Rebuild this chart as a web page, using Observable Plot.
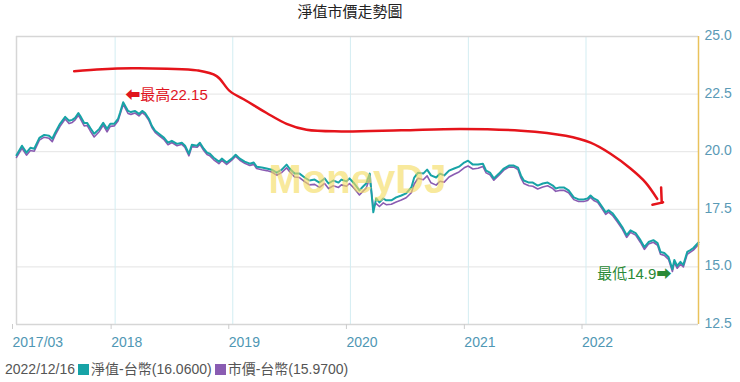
<!DOCTYPE html>
<html><head><meta charset="utf-8">
<script src="https://cdn.jsdelivr.net/npm/d3@7"></script>
<script src="https://cdn.jsdelivr.net/npm/@observablehq/plot@0.6"></script>
<style>
body{margin:0;background:#fff;font-family:"Liberation Sans","Noto Sans CJK TC",sans-serif;}
#title{width:700px;height:24px;line-height:22px;text-align:center;font-size:15px;color:#222;font-family:"Noto Sans CJK TC",sans-serif;overflow:visible;}
#legend{height:26px;line-height:26px;font-size:14px;color:#555;padding-left:5px;white-space:nowrap;}
#legend .sq{display:inline-block;width:11px;height:11px;margin:0 2px 0 3px;vertical-align:-1px;}
</style></head>
<body>
<div id="title">淨值市價走勢圖</div>
<div id="chart"></div>
<div id="legend"></div>
<script>
const dates = ["2017-03-01","2017-03-18","2017-04-01","2017-04-13","2017-04-25","2017-05-11","2017-05-26","2017-06-10","2017-06-20","2017-06-29","2017-07-14","2017-07-30","2017-08-11","2017-08-21","2017-08-30","2017-09-09","2017-09-15","2017-09-27","2017-10-06","2017-10-16","2017-10-28","2017-11-13","2017-11-25","2017-12-07","2017-12-17","2017-12-29","2018-01-10","2018-01-16","2018-01-26","2018-02-10","2018-02-19","2018-03-04","2018-03-16","2018-03-26","2018-04-04","2018-04-16","2018-04-25","2018-05-05","2018-05-17","2018-06-02","2018-06-14","2018-06-26","2018-07-12","2018-07-27","2018-08-06","2018-08-18","2018-08-27","2018-09-12","2018-09-21","2018-10-03","2018-10-13","2018-10-22","2018-11-03","2018-11-19","2018-11-28","2018-12-13","2018-12-29","2019-01-10","2019-01-23","2019-02-07","2019-02-23","2019-03-07","2019-03-16","2019-04-01","2019-04-16","2019-05-02","2019-05-17","2019-06-02","2019-06-17","2019-06-26","2019-07-12","2019-07-27","2019-08-12","2019-08-27","2019-09-12","2019-09-27","2019-10-13","2019-10-25","2019-11-09","2019-11-25","2019-12-04","2019-12-20","2019-12-29","2020-01-13","2020-01-29","2020-02-10","2020-02-19","2020-03-01","2020-03-12","2020-03-21","2020-03-31","2020-04-12","2020-04-21","2020-05-07","2020-05-22","2020-06-07","2020-06-22","2020-07-08","2020-07-17","2020-07-29","2020-08-14","2020-08-26","2020-09-07","2020-09-23","2020-10-05","2020-10-18","2020-11-02","2020-11-18","2020-12-03","2020-12-19","2020-12-31","2021-01-15","2021-01-31","2021-02-15","2021-02-25","2021-03-09","2021-03-21","2021-04-06","2021-04-21","2021-05-07","2021-05-22","2021-06-04","2021-06-13","2021-06-22","2021-07-08","2021-07-20","2021-08-04","2021-08-20","2021-09-04","2021-09-20","2021-09-29","2021-10-11","2021-10-24","2021-11-08","2021-11-24","2021-12-09","2021-12-25","2022-01-06","2022-01-15","2022-01-25","2022-02-06","2022-02-21","2022-03-03","2022-03-12","2022-03-24","2022-04-09","2022-04-24","2022-05-07","2022-05-19","2022-06-04","2022-06-19","2022-07-01","2022-07-14","2022-07-29","2022-08-11","2022-08-20","2022-09-01","2022-09-14","2022-09-26","2022-10-02","2022-10-11","2022-10-21","2022-10-30","2022-11-11","2022-11-21","2022-11-30","2022-12-16"];
const nav = [19.85,20.26,19.96,20.17,20.13,20.60,20.73,20.69,20.56,20.82,21.21,21.51,21.34,21.38,21.47,21.68,21.55,21.25,21.25,21.03,20.78,20.99,21.25,20.99,21.21,21.21,21.42,21.68,22.15,21.77,21.72,21.77,21.64,21.77,21.68,21.42,21.12,20.91,20.78,20.60,20.39,20.47,20.34,20.39,20.26,19.91,20.30,20.26,20.39,20.13,19.96,19.91,19.74,19.57,19.70,19.53,19.70,19.87,19.70,19.57,19.48,19.53,19.35,19.31,19.27,19.22,19.09,19.22,19.44,19.27,19.05,19.05,18.88,18.75,18.79,18.66,18.84,18.62,18.75,18.66,18.79,18.71,18.84,18.62,18.32,18.50,18.62,19.05,17.37,17.97,17.80,17.97,17.89,17.89,18.02,18.10,18.19,18.45,18.88,19.09,19.05,19.22,18.97,18.88,19.05,18.97,19.18,19.27,19.35,19.53,19.61,19.44,19.44,19.48,19.18,19.09,18.84,19.05,19.27,19.40,19.40,19.31,18.97,18.75,18.66,18.66,18.53,18.62,18.66,18.53,18.40,18.45,18.45,18.32,18.02,17.93,17.93,17.97,18.10,17.97,17.89,17.59,17.37,17.46,17.33,17.03,16.72,16.38,16.59,16.47,16.16,15.86,16.08,16.16,16.03,15.65,15.60,15.43,14.90,15.30,15.04,15.22,15.09,15.65,15.73,15.82,16.06];
const price = [19.75,20.15,19.85,20.05,20.02,20.50,20.63,20.58,20.44,20.72,21.10,21.42,21.22,21.27,21.38,21.58,21.44,21.12,21.14,20.90,20.64,20.88,21.15,20.86,21.10,21.12,21.33,21.60,22.05,21.66,21.62,21.68,21.55,21.70,21.60,21.35,21.05,20.84,20.70,20.52,20.30,20.40,20.26,20.32,20.18,19.82,20.22,20.19,20.32,20.05,19.88,19.82,19.65,19.48,19.62,19.45,19.63,19.80,19.63,19.50,19.40,19.45,19.27,19.22,19.18,19.12,18.98,19.10,19.30,19.14,18.90,18.88,18.70,18.56,18.58,18.45,18.62,18.40,18.52,18.45,18.56,18.50,18.62,18.40,18.12,18.30,18.42,18.85,17.60,17.75,17.62,17.78,17.70,17.72,17.82,17.90,18.00,18.22,18.60,18.85,18.78,18.95,18.65,18.55,18.72,18.68,18.90,19.02,19.12,19.30,19.38,19.25,19.28,19.36,19.08,19.00,18.76,18.98,19.20,19.33,19.33,19.22,18.86,18.62,18.52,18.50,18.38,18.47,18.52,18.40,18.28,18.32,18.33,18.22,17.92,17.84,17.84,17.88,18.02,17.88,17.80,17.50,17.28,17.38,17.24,16.94,16.63,16.28,16.50,16.38,16.06,15.76,15.99,16.07,15.94,15.55,15.50,15.33,14.80,15.20,14.94,15.12,15.00,15.55,15.64,15.73,15.97];

const xTickDates = ["2017-03-01","2018-01-01","2019-01-01","2020-01-01","2021-01-01","2022-01-01"];
const xTickLabels = ["2017/03","2018","2019","2020","2021","2022"];
const yTicks = [12.5,15.0,17.5,20.0,22.5,25.0];
const yGrid = [15.0,17.5,20.0,22.5];

// hand-drawn red annotation curve (in chart coordinates)
const redDates = ["2017-08-27","2017-11-22","2018-02-23","2018-06-11","2018-09-12","2018-11-12","2018-12-23","2019-02-13","2019-04-16","2019-06-17","2019-08-18","2019-12-04","2020-06-07","2020-12-09","2021-06-13","2021-10-30","2022-01-15","2022-03-18","2022-05-19","2022-07-05","2022-08-10"];
const redValues = [23.49,23.58,23.62,23.60,23.53,23.28,22.63,22.20,21.68,21.21,20.95,20.88,20.93,20.99,20.91,20.69,20.39,19.91,19.27,18.66,17.95];
const arrowHeadDates = [["2022-08-22","2022-08-24"],["2022-07-26","2022-08-28"]];
const arrowHeadValues = [[18.45,17.78],[17.70,17.80]];

const legendDate = "2022/12/16";
const seriesNames = ["淨值-台幣","市價-台幣"];
const seriesColors = ["#17a3a6","#8a5cb2"];

const parse = d3.utcParse("%Y-%m-%d");
const rows = dates.map((d,i)=>({date:parse(d), nav:nav[i], price:price[i]}));
const red = redDates.map((d,i)=>({date:parse(d), v:redValues[i]}));
const heads = arrowHeadDates.flatMap((pair,k)=>pair.map((d,j)=>({date:parse(d), v:arrowHeadValues[k][j], k})));
const ticks = xTickDates.map(parse);
const hi = rows.reduce((a,b)=>b.nav>a.nav?b:a);
const lo = rows.reduce((a,b)=>b.nav<a.nav?b:a);
const start = rows[0].date, end = rows[rows.length-1].date;
const fnt = '"Liberation Sans","Noto Sans CJK TC",sans-serif';

const chart = Plot.plot({
  width: 740, height: 332,
  marginTop: 12, marginBottom: 32, marginLeft: 16, marginRight: 42,
  style: {fontFamily: fnt, background: "#fff", overflow: "visible"},
  x: {type: "utc", domain: [start, end]},
  y: {domain: [12.5, 25]},
  marks: [
    Plot.gridY(yGrid, {stroke: "#e4e4e4", strokeOpacity: 1}),
    Plot.gridX(ticks.slice(1), {stroke: "#d3edf2", strokeOpacity: 1}),
    Plot.ruleY([25], {stroke: "#d6d6d6", strokeWidth: 1.5}),
    Plot.ruleY([12.5], {stroke: "#d6d6d6", strokeWidth: 1.5}),
    Plot.ruleX([start], {stroke: "#d6d6d6", strokeWidth: 1.5}),
    Plot.axisX(ticks, {tickSize: 5, tickPadding: 8, stroke: "#cccccc", fill: "#4f97b4", fontSize: 14,
      tickFormat: (d,i)=>xTickLabels[i], textAnchor: "start", dx: -4, label: null}),
    Plot.axisY(yTicks, {anchor: "right", tickSize: 0, tickPadding: 6, fill: "#5a9ab6", fontSize: 14,
      tickFormat: d=>d.toFixed(1), dy: -1, label: null}),
    Plot.line(rows, {x: "date", y: "price", stroke: seriesColors[1], strokeWidth: 1.6}),
    Plot.line(rows, {x: "date", y: "nav", stroke: seriesColors[0], strokeWidth: 2}),
    Plot.text(["MoneyDJ"], {frameAnchor: "middle", text: d=>d, fill: "#f5dc62", fillOpacity: 0.65,
      fontSize: 40, fontWeight: "bold", fontFamily: '"Liberation Sans",sans-serif'}),
    Plot.ruleX([end], {stroke: "#e9c25c", strokeWidth: 1.5}),
    Plot.line(red, {x: "date", y: "v", stroke: "#e5141b", strokeWidth: 2.5, curve: "catmull-rom"}),
    Plot.line(heads, {x: "date", y: "v", z: "k", stroke: "#e5141b", strokeWidth: 2.5}),
    Plot.text([hi], {x: "date", y: "nav", text: d=>"⬅最高" + d.nav, textAnchor: "start", dx: 2, dy: -7,
      fill: "#e0141e", fontSize: 15}),
    Plot.text([lo], {x: "date", y: "nav", text: d=>"最低" + d.nav + "➡", textAnchor: "end", dx: -1, dy: 5,
      fill: "#2a8a36", fontSize: 15})
  ]
});
document.getElementById("chart").appendChild(chart);

const lg = document.getElementById("legend");
lg.innerHTML = legendDate +
  `<span class="sq" style="background:${seriesColors[0]}"></span>${seriesNames[0]}(${nav[nav.length-1].toFixed(4)})` +
  `<span class="sq" style="background:${seriesColors[1]}"></span>${seriesNames[1]}(${price[price.length-1].toFixed(4)})`;
</script>
</body></html>
